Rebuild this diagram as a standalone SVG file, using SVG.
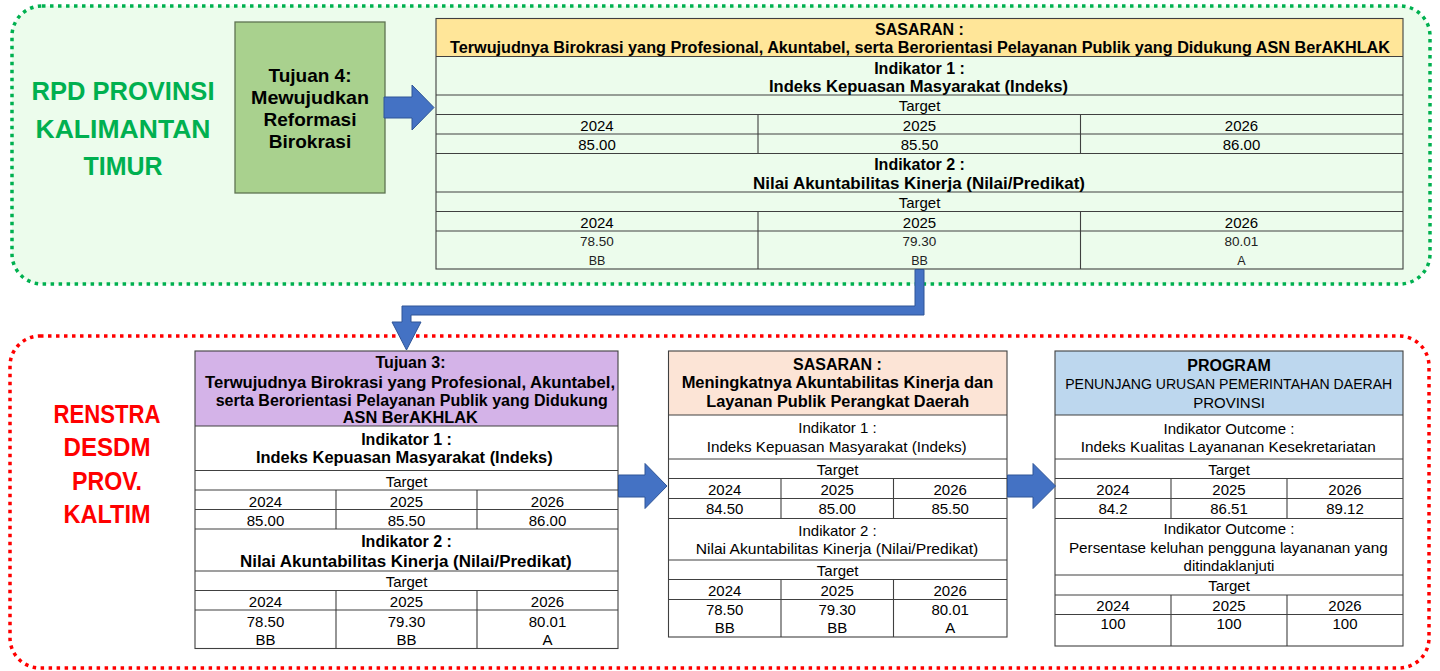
<svg xmlns="http://www.w3.org/2000/svg" width="1440" height="671" viewBox="0 0 1440 671">
<style>
text{font-family:"Liberation Sans",Arial,sans-serif;text-anchor:middle;fill:#000}
.b{font-weight:bold;font-size:16px}
.r{font-size:15px}
.s{font-size:13.5px;fill:#222}
.t{font-size:12.5px;fill:#222}
.big{font-weight:bold;font-size:25px}
.grid{fill:none;stroke:#404040;stroke-width:1.1}
.arrow{fill:#4472C4;stroke:#2F5597;stroke-width:1}
</style>
<rect width="1440" height="671" fill="#ffffff"/>

<g id="rpd-region">
<rect x="12" y="6" width="1418" height="278" rx="30" ry="30" fill="#ECFCEC" stroke="#00B050" stroke-width="3.5" stroke-dasharray="3.5 4.5"/>
<text class="big" x="123" y="100" fill="#00B050" style="fill:#00B050" textLength="183" lengthAdjust="spacingAndGlyphs">RPD PROVINSI</text>
<text class="big" x="123" y="138" style="fill:#00B050" textLength="175" lengthAdjust="spacingAndGlyphs">KALIMANTAN</text>
<text class="big" x="123" y="175" style="fill:#00B050">TIMUR</text>
</g>

<g id="renstra-region">
<rect x="10" y="336" width="1419" height="332" rx="30" ry="30" fill="#ffffff" stroke="#FF0000" stroke-width="3.5" stroke-dasharray="3.5 4.5"/>
<text class="big" x="107" y="423" style="fill:#FF0000" textLength="107" lengthAdjust="spacingAndGlyphs">RENSTRA</text>
<text class="big" x="107" y="456" style="fill:#FF0000" textLength="87" lengthAdjust="spacingAndGlyphs">DESDM</text>
<text class="big" x="107" y="490" style="fill:#FF0000" textLength="70" lengthAdjust="spacingAndGlyphs">PROV.</text>
<text class="big" x="107" y="523" style="fill:#FF0000" textLength="87" lengthAdjust="spacingAndGlyphs">KALTIM</text>
</g>

<g id="tujuan4">
<rect x="235" y="22" width="150" height="171" fill="#A9D18E" stroke="#5E7352" stroke-width="1.3"/>
<text x="310" y="82" style="font-weight:bold;font-size:19px">Tujuan 4:</text>
<text x="310" y="104" style="font-weight:bold;font-size:19px" textLength="118" lengthAdjust="spacingAndGlyphs">Mewujudkan</text>
<text x="310" y="126" style="font-weight:bold;font-size:19px">Reformasi</text>
<text x="310" y="148" style="font-weight:bold;font-size:19px">Birokrasi</text>
</g>

<g id="sasaran-top">
<rect x="436" y="18.5" width="967" height="38" fill="#FFE699"/>
<rect x="436" y="56.5" width="967" height="212.5" fill="#ECFCEC"/>
<rect class="grid" x="436" y="18.5" width="967" height="250.5"/>
<path class="grid" d="M436 56.5H1403M436 95H1403M436 114.5H1403M436 134H1403M436 153.5H1403M436 192H1403M436 211.5H1403M436 231H1403M758 114.5V153.5M1080.5 114.5V153.5M758 211.5V269M1080.5 211.5V269"/>
<text class="b" x="919.5" y="35">SASARAN :</text>
<text class="b" x="920" y="52.5" textLength="940" lengthAdjust="spacingAndGlyphs">Terwujudnya Birokrasi yang Profesional, Akuntabel, serta Berorientasi Pelayanan Publik yang Didukung ASN BerAKHLAK</text>
<text class="b" x="919.5" y="73.5">Indikator 1 :</text>
<text class="b" x="918.5" y="91.5" textLength="299" lengthAdjust="spacingAndGlyphs">Indeks Kepuasan Masyarakat (Indeks)</text>
<text class="r" x="919.5" y="110.5">Target</text>
<text class="r" x="597" y="130.5">2024</text>
<text class="r" x="919.5" y="130.5">2025</text>
<text class="r" x="1241.5" y="130.5">2026</text>
<text class="r" x="597" y="150">85.00</text>
<text class="r" x="919.5" y="150">85.50</text>
<text class="r" x="1241.5" y="150">86.00</text>
<text class="b" x="919.5" y="169.5">Indikator 2 :</text>
<text class="b" x="919" y="188.5" textLength="332" lengthAdjust="spacingAndGlyphs">Nilai Akuntabilitas Kinerja (Nilai/Predikat)</text>
<text class="r" x="919.5" y="207.5">Target</text>
<text class="r" x="597" y="227.5">2024</text>
<text class="r" x="919.5" y="227.5">2025</text>
<text class="r" x="1241.5" y="227.5">2026</text>
<text class="s" x="597" y="246">78.50</text>
<text class="s" x="919.5" y="246">79.30</text>
<text class="s" x="1241.5" y="246">80.01</text>
<text class="t" x="597" y="265">BB</text>
<text class="t" x="919.5" y="265">BB</text>
<text class="t" x="1241.5" y="265">A</text>
</g>

<g id="tujuan3">
<rect x="195" y="351" width="423" height="75" fill="#D4B3E8"/>
<rect x="195" y="426" width="423" height="222.5" fill="#ffffff"/>
<rect class="grid" x="195" y="351" width="423" height="297.5"/>
<path class="grid" d="M195 426H618M195 470.5H618M195 490H618M195 509.5H618M195 529H618M195 571H618M195 590.5H618M195 610H618M336 490V529M477 490V529M336 590.5V648.5M477 590.5V648.5"/>
<text class="b" x="410.5" y="368.3">Tujuan 3:</text>
<text class="b" x="410" y="388.3" textLength="410" lengthAdjust="spacingAndGlyphs">Terwujudnya Birokrasi yang Profesional, Akuntabel,</text>
<text class="b" x="411.7" y="405.7" textLength="392" lengthAdjust="spacingAndGlyphs">serta Berorientasi Pelayanan Publik yang Didukung</text>
<text class="b" x="410.3" y="423.3" textLength="135" lengthAdjust="spacingAndGlyphs">ASN BerAKHLAK</text>
<text class="b" x="406.5" y="445">Indikator 1 :</text>
<text class="b" x="404.3" y="462.7" textLength="296.7" lengthAdjust="spacingAndGlyphs">Indeks Kepuasan Masyarakat (Indeks)</text>
<text class="r" x="406.5" y="486.7">Target</text>
<text class="r" x="265.5" y="506.7">2024</text>
<text class="r" x="406.5" y="506.7">2025</text>
<text class="r" x="547.5" y="506.7">2026</text>
<text class="r" x="265.5" y="525.7">85.00</text>
<text class="r" x="406.5" y="525.7">85.50</text>
<text class="r" x="547.5" y="525.7">86.00</text>
<text class="b" x="406.5" y="547.3">Indikator 2 :</text>
<text class="b" x="405.8" y="566.7" textLength="331.7" lengthAdjust="spacingAndGlyphs">Nilai Akuntabilitas Kinerja (Nilai/Predikat)</text>
<text class="r" x="406.5" y="586.7">Target</text>
<text class="r" x="265.5" y="606.7">2024</text>
<text class="r" x="406.5" y="606.7">2025</text>
<text class="r" x="547.5" y="606.7">2026</text>
<text class="r" x="265.5" y="626.7">78.50</text>
<text class="r" x="406.5" y="626.7">79.30</text>
<text class="r" x="547.5" y="626.7">80.01</text>
<text class="r" x="265.5" y="645">BB</text>
<text class="r" x="406.5" y="645">BB</text>
<text class="r" x="547.5" y="645">A</text>
</g>

<g id="sasaran-bottom">
<rect x="668.5" y="351" width="338.5" height="64" fill="#FCE4D6"/>
<rect x="668.5" y="415" width="338.5" height="222" fill="#ffffff"/>
<rect class="grid" x="668.5" y="351" width="338.5" height="286"/>
<path class="grid" d="M668.5 415H1007M668.5 459H1007M668.5 478.5H1007M668.5 498.5H1007M668.5 518.5H1007M668.5 560H1007M668.5 579.5H1007M668.5 599.5H1007M781 478.5V518.5M893.5 478.5V518.5M781 579.5V637M893.5 579.5V637"/>
<text class="b" x="837.5" y="370">SASARAN :</text>
<text class="b" x="837.5" y="388.3" textLength="311.7" lengthAdjust="spacingAndGlyphs">Meningkatnya Akuntabilitas Kinerja dan</text>
<text class="b" x="837.7" y="406.7" textLength="263" lengthAdjust="spacingAndGlyphs">Layanan Publik Perangkat Daerah</text>
<text class="r" x="837.5" y="433.3">Indikator 1 :</text>
<text class="r" x="836.7" y="451.7" textLength="260" lengthAdjust="spacingAndGlyphs">Indeks Kepuasan Masyarakat (Indeks)</text>
<text class="r" x="837.7" y="475">Target</text>
<text class="r" x="724.7" y="495">2024</text>
<text class="r" x="837.2" y="495">2025</text>
<text class="r" x="950.2" y="495">2026</text>
<text class="r" x="724.7" y="514">84.50</text>
<text class="r" x="837.2" y="514">85.00</text>
<text class="r" x="950.2" y="514">85.50</text>
<text class="r" x="837.5" y="536">Indikator 2 :</text>
<text class="r" x="837" y="554.3" textLength="282.7" lengthAdjust="spacingAndGlyphs">Nilai Akuntabilitas Kinerja (Nilai/Predikat)</text>
<text class="r" x="837.7" y="576">Target</text>
<text class="r" x="724.7" y="596">2024</text>
<text class="r" x="837.2" y="596">2025</text>
<text class="r" x="950.2" y="596">2026</text>
<text class="r" x="724.7" y="615">78.50</text>
<text class="r" x="837.2" y="615">79.30</text>
<text class="r" x="950.2" y="615">80.01</text>
<text class="r" x="724.7" y="633.3">BB</text>
<text class="r" x="837.2" y="633.3">BB</text>
<text class="r" x="950.2" y="633.3">A</text>
</g>

<g id="program">
<rect x="1055" y="351" width="348" height="64" fill="#BDD7EE"/>
<rect x="1055" y="415" width="348" height="231" fill="#ffffff"/>
<rect class="grid" x="1055" y="351" width="348" height="295"/>
<path class="grid" d="M1055 415H1403M1055 459H1403M1055 478.5H1403M1055 498.5H1403M1055 518.5H1403M1055 575H1403M1055 595H1403M1055 614.5H1403M1171 478.5V518.5M1287 478.5V518.5M1171 595V646M1287 595V646"/>
<text class="b" x="1229" y="370.7">PROGRAM</text>
<text class="r" x="1228.7" y="389.3" textLength="327" lengthAdjust="spacingAndGlyphs">PENUNJANG URUSAN PEMERINTAHAN DAERAH</text>
<text class="r" x="1229" y="407.7">PROVINSI</text>
<text class="r" x="1229" y="434.3">Indikator Outcome :</text>
<text class="r" x="1228.2" y="452.3" textLength="295" lengthAdjust="spacingAndGlyphs">Indeks Kualitas Layananan Kesekretariatan</text>
<text class="r" x="1229" y="475">Target</text>
<text class="r" x="1113" y="495">2024</text>
<text class="r" x="1229" y="495">2025</text>
<text class="r" x="1345" y="495">2026</text>
<text class="r" x="1113" y="514">84.2</text>
<text class="r" x="1229" y="514">86.51</text>
<text class="r" x="1345" y="514">89.12</text>
<text class="r" x="1229" y="534.3">Indikator Outcome :</text>
<text class="r" x="1228.3" y="552.7" textLength="318.7" lengthAdjust="spacingAndGlyphs">Persentase keluhan pengguna layananan yang</text>
<text class="r" x="1229" y="571">ditindaklanjuti</text>
<text class="r" x="1229" y="591">Target</text>
<text class="r" x="1113" y="610.7">2024</text>
<text class="r" x="1229" y="610.7">2025</text>
<text class="r" x="1345" y="610.7">2026</text>
<text class="r" x="1113" y="629.3">100</text>
<text class="r" x="1229" y="629.3">100</text>
<text class="r" x="1345" y="629.3">100</text>
</g>

<g id="connectors">
<polygon class="arrow" points="384,97 412,97 412,85 434,107.5 412,130 412,118 384,118"/>
<polygon class="arrow" points="915,269.5 924,269.5 924,315 411,315 411,322 421,322 406.5,350 392,322 402,322 402,306 915,306"/>
<polygon class="arrow" points="618.5,475 645,475 645,463.5 667,486 645,508.5 645,497 618.5,497"/>
<polygon class="arrow" points="1007.5,475 1033,475 1033,463.5 1055.5,486 1033,508.5 1033,497 1007.5,497"/>
</g>
</svg>
